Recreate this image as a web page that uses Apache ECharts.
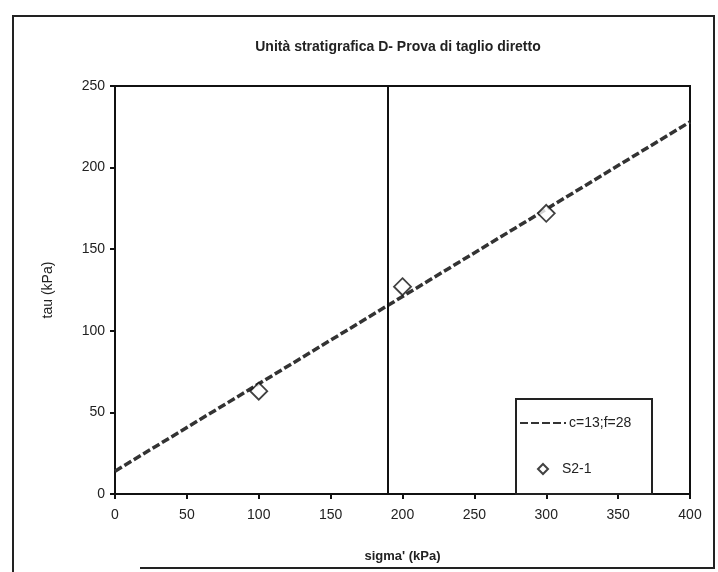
<!DOCTYPE html>
<html>
<head>
<meta charset="utf-8">
<script src="https://cdn.jsdelivr.net/npm/echarts@6/dist/echarts.min.js"></script>
<style>
html,body{margin:0;padding:0;background:#fff;}
#c{width:718px;height:572px;}
</style>
</head>
<body>
<div id="c"></div>
<script>
var titleText = "Unità stratigrafica D- Prova di taglio diretto";
var xName = "sigma' (kPa)";
var yName = "tau (kPa)";
var lineName = "c=13;f=28";
var pointName = "S2-1";
var fitLine = [[0, 14], [400, 228]];
var testPoints = [[100, 63], [200, 127], [300, 172]];
var verticalX = 190;
var xTicks = [0, 50, 100, 150, 200, 250, 300, 350, 400];
var yTicks = [0, 50, 100, 150, 200, 250];

var FONT = "'Liberation Sans', 'DejaVu Sans', sans-serif";
var chart = echarts.init(document.getElementById('c'));
chart.setOption({
  animation: false,
  backgroundColor: '#fff',
  title: {
    text: titleText,
    left: 393, top: 35, textAlign: 'center',
    textStyle: {fontFamily: "'Liberation Sans Narrow', 'Liberation Sans', sans-serif", fontSize: 14, fontWeight: 'bold', color: '#222'}
  },
  graphic: [
    {type: 'polyline', shape: {points: [[13, 572], [13, 16], [714, 16], [714, 568], [140, 568]]},
     style: {fill: 'none', stroke: '#222', lineWidth: 2}, silent: true},
    {type: 'rect', shape: {x: 516, y: 399, width: 136, height: 95}, z: 10,
     style: {fill: '#fff', stroke: '#222', lineWidth: 2}, silent: true}
  ],
  grid: {left: 115, right: 28, top: 86, bottom: 78, show: true, borderColor: '#111', borderWidth: 2},
  legend: [
    {
      orient: 'vertical', left: 519, top: 416, z: 20, padding: 0,
      itemWidth: 46, itemHeight: 10, itemGap: 5,
      textStyle: {fontFamily: FONT, fontSize: 14, color: '#222', padding: [0, 0, 0, -2]},
      data: [{name: lineName, itemStyle: {opacity: 0}}]
    },
    {
      orient: 'vertical', left: 537, top: 462, z: 20, padding: 0,
      itemWidth: 10, itemHeight: 10, itemGap: 5,
      textStyle: {fontFamily: FONT, fontSize: 14, color: '#222', padding: [0, 0, 0, 9]},
      data: [pointName]
    }
  ],
  xAxis: {
    type: 'value', min: 0, max: 400, interval: 50,
    name: xName, nameLocation: 'middle', nameGap: 56,
    nameTextStyle: {fontFamily: FONT, fontSize: 13, fontWeight: 'bold', color: '#222'},
    axisLine: {show: true, lineStyle: {color: '#111', width: 2}},
    axisTick: {show: true, lineStyle: {color: '#111', width: 2}, length: 5},
    axisLabel: {fontFamily: FONT, fontSize: 14, color: '#222', margin: 14,
      formatter: function(v){ return xTicks.indexOf(v) >= 0 ? String(v) : ''; }},
    splitLine: {show: false}
  },
  yAxis: {
    type: 'value', min: 0, max: 250, interval: 50,
    name: yName, nameLocation: 'middle', nameGap: 60, nameRotate: 90,
    nameTextStyle: {fontFamily: FONT, fontSize: 14, color: '#222'},
    axisLine: {show: true, lineStyle: {color: '#111', width: 2}},
    axisTick: {show: true, lineStyle: {color: '#111', width: 2}, length: 5},
    axisLabel: {fontFamily: FONT, fontSize: 14, color: '#222', margin: 10,
      formatter: function(v){ return yTicks.indexOf(v) >= 0 ? String(v) : ''; }},
    splitLine: {show: false}
  },
  series: [
    {
      name: lineName, type: 'line', data: fitLine, showSymbol: false, symbol: 'none',
      lineStyle: {color: '#333', width: 3.5, type: [8, 3]},
      itemStyle: {color: '#333'},
      markLine: {
        silent: true, symbol: 'none', label: {show: false},
        lineStyle: {color: '#111', width: 2, type: 'solid'},
        data: [{xAxis: verticalX}]
      },
      z: 3
    },
    {
      name: pointName, type: 'scatter', data: testPoints, symbol: 'diamond', symbolSize: [17, 17],
      itemStyle: {color: '#fff', borderColor: '#111', borderWidth: 1.8},
      z: 4
    }
  ]
});
</script>
</body>
</html>
